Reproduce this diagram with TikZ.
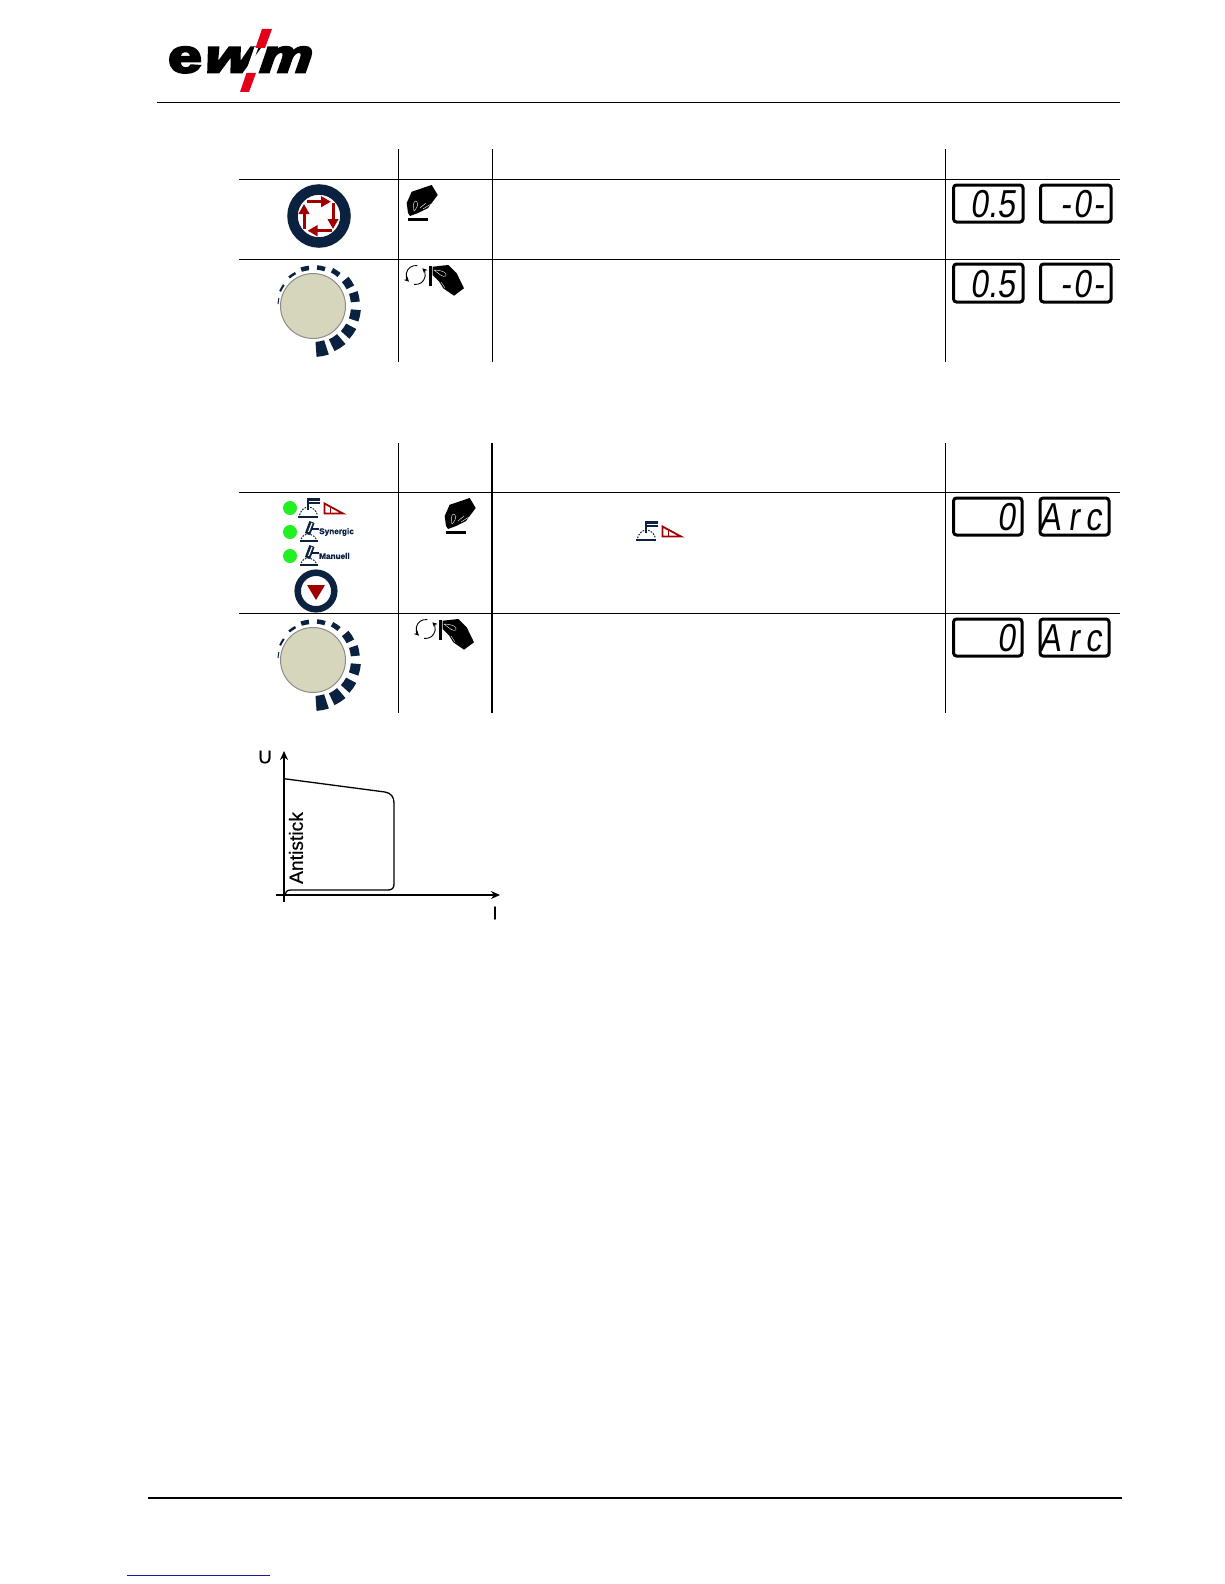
\documentclass[tikz,border=0pt]{standalone}
\usepackage{fontspec}
\setmainfont{Liberation Sans}
\newfontfamily\lcdfont[FakeSlant=0.14,FakeStretch=0.82]{Liberation Sans}
\newfontfamily\logoup[BoldFeatures={FakeBold=5}]{Liberation Sans}
\newfontfamily\logoslant[FakeSlant=0.28,BoldFeatures={FakeBold=5}]{Liberation Sans}
\newfontfamily\modefont[BoldFeatures={FakeBold=1}]{Liberation Sans}
\newfontfamily\labelfont[FakeBold=0.5]{Liberation Sans}
\usetikzlibrary{arrows.meta}
\definecolor{navy}{HTML}{0A2140}
\definecolor{brickred}{HTML}{A00000}
\definecolor{knobfill}{HTML}{D6D6BC}
\definecolor{ledgreen}{HTML}{22F022}
\definecolor{linkblue}{HTML}{1A1A99}
\definecolor{logored}{HTML}{E2001A}
\tikzset{
  rulethin/.style={black,line width=1pt},
  rulethick/.style={black,line width=2pt},
  redarrow/.style={brickred,line width=3pt,-{Triangle[length=10pt,width=10.5pt]}},
  lcdbox/.style={draw=black,line width=3pt,rounded corners=3pt,fill=white},
  lcdtext/.style={inner sep=0pt,font=\lcdfont\fontsize{39}{39}\selectfont,anchor=base east},
  lcdarc/.style={inner sep=0pt,font=\lcdfont\fontsize{39}{39}\selectfont,anchor=base east},
  led/.style={circle,fill=ledgreen,draw=none,minimum size=14pt,inner sep=0pt},
  modelabel/.style={inner sep=0pt,anchor=west,text=navy,font=\modefont\bfseries\fontsize{8.2}{8.2}\selectfont},
  axislabel/.style={inner sep=0pt,font=\labelfont\fontsize{18.5}{18.5}\selectfont},
  axisline/.style={black,line width=1.5pt,-{Stealth[length=9pt,width=8pt]}},
  logotext/.style={inner sep=0pt,transform shape,anchor=base west},
  pics/knob/.style={code={
    \begin{scope}[x=1pt,y=1pt]
      \foreach \a/\ri/\ro/\h in {-79/36/51/7,-57/37/50/7.5,-35/37.5/49/7,-12/38/48/7,12/38/47/6.5,33/37.5/46/6.5,56/38/43/6,78/36.5/41/6,102/36/40.5/6,124/36/38.5/6,150/35/37/6,172/34.5/35.5/5}{
        \pgfmathsetmacro\aa{\a-\h}\pgfmathsetmacro\ab{\a+\h}
        \fill[navy] (\aa:\ri) -- (\a:\ri) -- (\ab:\ri) -- (\ab:\ro) -- (\a:\ro) -- (\aa:\ro) -- cycle;
      }
      \draw[fill=knobfill,draw=gray!85!knobfill,line width=1pt] (0,0) circle (32.5);
    \end{scope}}},
  pics/pressicon/.style={code={
    \fill[black] (431.7,185) -- (437.7,195) -- (428,208) -- (418,213) -- (410,216) -- (408,213) -- (406.7,203) -- (411.7,191.7) -- cycle;
    \draw[white,line width=.4pt] (414,211) .. controls (412,203) and (415,199) .. (417,202) .. controls (419,205) and (416,209) .. (414,211);
    \draw[white,line width=.4pt] (420,208) -- (426,203) (423,209) -- (431,204);
    \fill[black] (408,218) rectangle (428,221);}},
  pics/turnicon/.style={code={
    \fill[black] (429,266) rectangle (432.3,286);
    \fill[black] (432.7,266.7) -- (448.3,265) -- (456.7,273.3) -- (464,288.3) -- (454,295.7) -- (443.3,288.3) -- (439.3,281.7) -- (432.7,275) -- cycle;
    \draw[white,line width=.4pt] (434,270) .. controls (440,270) and (448,272) .. (446,276) .. controls (443,278) and (438,273) .. (434,270);
    \draw[white,line width=.4pt] (441,282) -- (445,288);
    \begin{scope}[shift={(415.7,275)},x=1pt,y=1pt]
      \draw[black,line width=.9pt,-{Stealth[length=5pt,width=5pt]}] (80:9.5) arc (80:225:9.5);
      \draw[black,line width=.9pt,-{Stealth[length=5pt,width=5pt]}] (260:9.5) arc (260:405:9.5);
    \end{scope}}},
  pics/toolicon/.style={code={
    \fill[navy] (306.7,498.3) rectangle (320,504);
    \draw[white,line width=1pt] (309,501) -- (320,501);
    \draw[navy,line width=1.6pt] (308,504) -- (308,510);
    \draw[navy,line width=1pt,dash pattern=on 1.6pt off 1.3pt] (299.5,515) .. controls (301,510) and (305,507) .. (308,507) .. controls (312,507) and (316,510) .. (317.5,515);
    \fill[navy] (298,516) rectangle (318,518);
    \draw[brickred,line width=1.8pt,line join=miter] (324.5,503.5) -- (324.5,513.5) -- (343,513.5) -- cycle;
    \draw[brickred,line width=1pt] (330,507) -- (330,513);}},
  pics/torchicon/.style={code={
    \draw[navy,line width=5.5pt] (312,522) -- (307.5,534);
    \draw[white,line width=1.2pt] (312,523) -- (308.5,532);
    \draw[navy,line width=2pt] (312,529.3) -- (319,529.3);
    \draw[navy,line width=1pt,dash pattern=on 1.6pt off 1.3pt] (301,539) .. controls (302,536) and (305,534) .. (307.5,534) .. controls (311,534) and (315,536) .. (316,539);
    \fill[navy] (300,540) rectangle (318,542.3);}}
}
\begin{document}
\begin{tikzpicture}[x=1pt,y=-1pt]
\useasboundingbox (0,0) rectangle (1224,1584);
\fill[white] (0,0) rectangle (1224,1584);

% logo
\node[logotext,xscale=1.28,font=\logoup\bfseries\fontsize{47}{47}\selectfont] (logoe) at (168,72.3) {e};
\node[logotext,xscale=1.36,font=\logoslant\bfseries\fontsize{47}{47}\selectfont] (logow) at (200,72.3) {w};
\node[logotext,xscale=1.24,font=\logoslant\bfseries\fontsize{47}{47}\selectfont] (logom) at (256,72.3) {m};
\fill[white] (254.5,47) -- (258.5,47) -- (249,74) -- (245,74) -- cycle;
\fill[logored] (262,29) -- (272,29) -- (265,48) -- (255.5,48) -- cycle;
\fill[logored] (246.5,73) -- (256,73) -- (249,92) -- (240,92) -- cycle;
\draw[rulethin] (157,103) -- (1120,103);

% first table
\draw[rulethin] (398,149) -- (398,362);
\draw[rulethin] (492,149) -- (492,362);
\draw[rulethin] (945,149) -- (945,362);
\draw[rulethin] (239,179) -- (1120,179);
\draw[rulethin] (239,259) -- (1120,259);

% sequence button
\draw[navy,line width=10.5pt,fill=white] (319,216) circle (26.5);
\draw[redarrow] (306.7,201.7) -- (331,201.7);
\draw[redarrow] (333,203) -- (333,229);
\draw[redarrow] (332,230.7) -- (307.5,230.7);
\draw[redarrow] (304,228.5) -- (304,204);

\pic at (313,306) {knob};
\pic {pressicon};
\pic {turnicon};

% second table
\draw[rulethin] (398,443) -- (398,713);
\draw[rulethick] (492,443) -- (492,713);
\draw[rulethin] (945,443) -- (945,713);
\draw[rulethin] (239,492) -- (1120,492);
\draw[rulethin] (239,613) -- (1120,613);

\node[led] (ledone) at (290,508) {};
\node[led] (ledtwo) at (290,532) {};
\node[led] (ledthree) at (290,556) {};
\pic {toolicon};
\pic {torchicon};
\pic[shift={(0,24)}] {torchicon};
\node[modelabel] (synergic) at (319,532) {Synergic};
\node[modelabel] (manuell) at (319,556) {Manuell};

\draw[navy,line width=6.5pt,fill=white] (316,591) circle (18.3);
\fill[brickred] (307,585) -- (325,585) -- (316,600) -- cycle;

\pic at (313,660) {knob};
\pic[shift={(38,313)}] {pressicon};
\pic[shift={(10,354)}] {turnicon};
\pic[shift={(338,23)}] {toolicon};

% readouts
\foreach \yt/\yb in {185/222,264/302}{
  \draw[lcdbox] (953.5,\yt) rectangle (1023,\yb);
  \draw[lcdbox] (1040.5,\yt) rectangle (1111,\yb);
  \node[lcdtext] at (1015,\yb-5) {0.5};
  \node[lcdtext] at (1104,\yb-5) {-\kern2pt0\kern2pt-};
}
\foreach \yt/\yb in {498/535,619/656}{
  \draw[lcdbox] (953.5,\yt) rectangle (1022,\yb);
  \draw[lcdbox] (1040,\yt) rectangle (1109,\yb);
  \node[lcdtext] at (1015,\yb-4.5) {0};
  \node[lcdarc] at (1102,\yb-4.5) {A\kern7pt r\kern7pt c};
}

% characteristic
\coordinate (originv) at (284,902);
\coordinate (topv) at (284,751);
\coordinate (originh) at (276,895);
\coordinate (endh) at (500,895);
\draw[axisline] (originv) -- (topv);
\draw[axisline] (originh) -- (endh);
\draw[black,line width=1.3pt] (284,778.7) -- (385,792) .. controls (391,793) and (394,797) .. (394,803) -- (394,884) .. controls (394,888) and (392,890) .. (388,890) -- (291,890) .. controls (287,890) and (285,892) .. (285,895);
\node[axislabel] (ulabel) at (265,757) {U};
\node[axislabel] (ilabel) at (495,913) {I};
\node[inner sep=0pt,rotate=90,font=\labelfont\fontsize{19.3}{19.3}\selectfont] (antistick) at (296,848) {Antistick};

% footer
\draw[rulethick] (148,1498) -- (1122,1498);
\draw[linkblue,line width=1pt] (127,1575) -- (270,1575);
\end{tikzpicture}
\end{document}
